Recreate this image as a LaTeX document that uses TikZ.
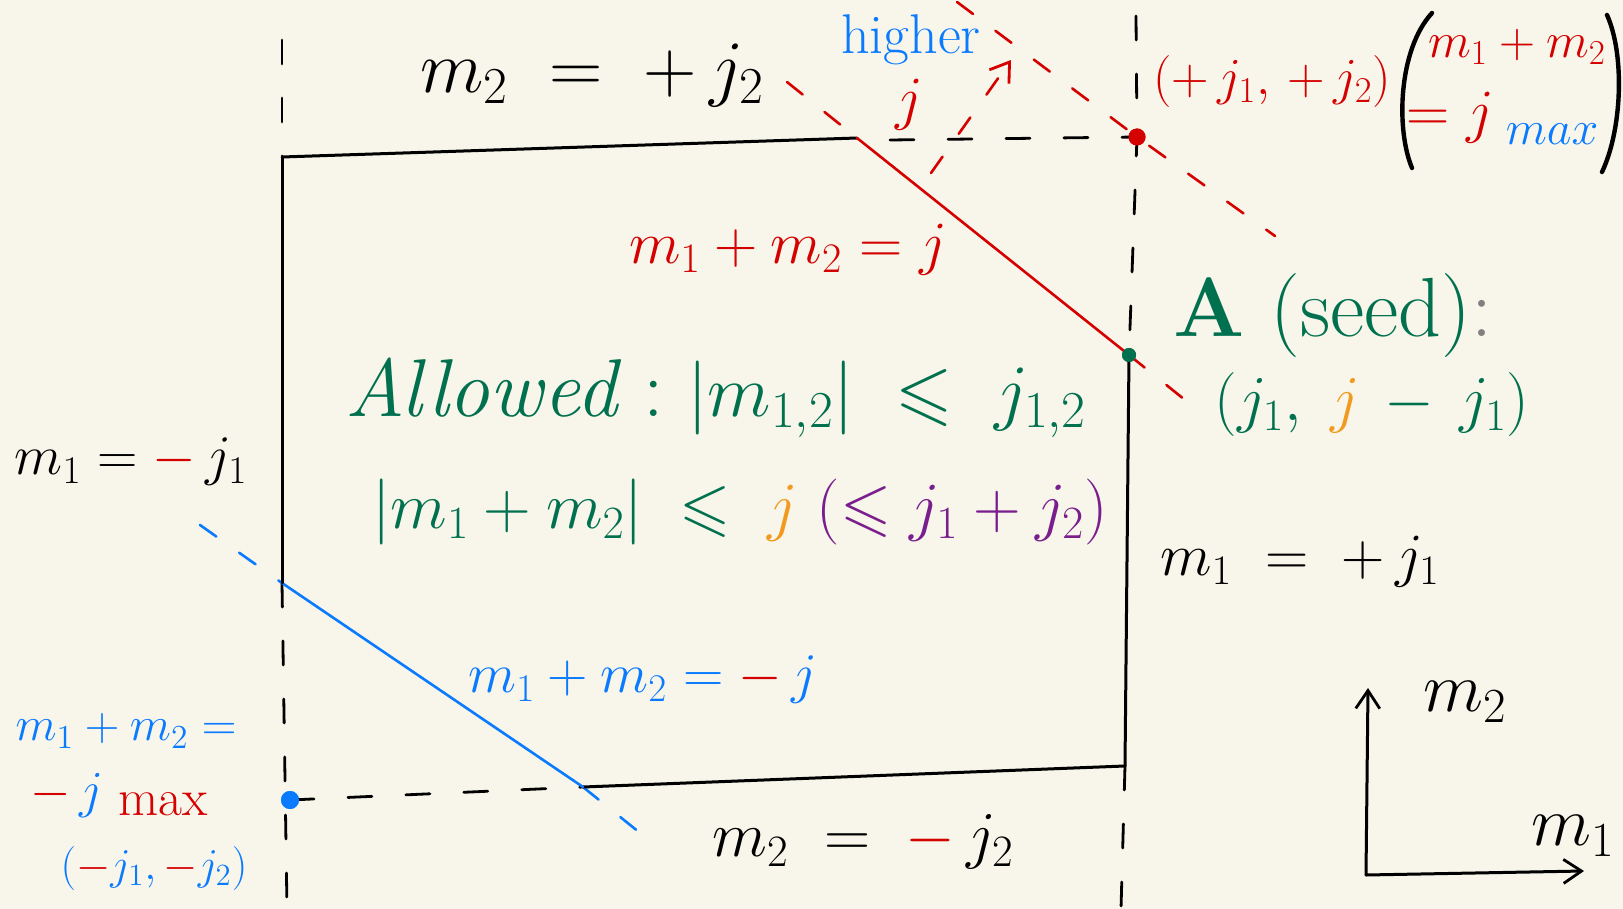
\RequirePackage{fix-cm}
\documentclass[tikz,border=0pt]{standalone}
\usepackage{amsmath,amssymb}
\usetikzlibrary{arrows.meta}
\definecolor{bg}{HTML}{F8F6EA}
\definecolor{hred}{HTML}{D50000}
\definecolor{hblue}{HTML}{0A7AFF}
\definecolor{hgreen}{HTML}{00704F}
\definecolor{horange}{HTML}{F29A1F}
\definecolor{hpurple}{HTML}{7A1E8E}
\newcommand\myfs[1]{\fontsize{#1}{#1}\selectfont}
\begin{document}
\begin{tikzpicture}[x=0.5pt,y=-0.5pt,line cap=round,
  frame/.style={black,line width=1.5pt},
  guide/.style={black,line width=1.4pt,dash pattern=on 12pt off 17pt},
  rsolid/.style={hred,line width=1.3pt},
  rguide/.style={hred,line width=1.3pt,dash pattern=on 10pt off 14pt},
  bsolid/.style={hblue,line width=1.3pt},
  bguide/.style={hblue,line width=1.3pt,dash pattern=on 10pt off 14pt},
  paren/.style={black,line width=2.2pt},
  dotn/.style={circle,inner sep=0pt,minimum size=#1},
  lab/.style={inner sep=0pt,anchor=center},
  barb/.style={-{Straight Barb[length=9pt,width=12pt,line width=1.4pt]}}]
\fill[bg] (0,0) rectangle (1623,909);
\useasboundingbox (0,0) rectangle (1623,909);

% corners
\coordinate (TL) at (282,157);
\coordinate (TR) at (857,138);
\coordinate (LB) at (282,583);
\coordinate (BL) at (583,787);
\coordinate (BR) at (1125,766);
\node[dotn=8.5pt,fill=hred] (rdot) at (1137,137) {};
\node[dotn=7pt,fill=hgreen] (gdot) at (1129,355) {};
\node[dotn=9pt,fill=hblue] (bdot) at (290,800) {};

% guide ends
\coordinate (Ltop) at (282,40);
\coordinate (Lbot) at (287,909);
\coordinate (Rtop) at (1136,16);
\coordinate (Rbot) at (1121,909);
\coordinate (TRd) at (890,140);
\coordinate (TRext) at (787,82);
\coordinate (Gext) at (1195,408);
\coordinate (J1) at (957,2);
\coordinate (J2) at (1275,236);
\coordinate (B1) at (200,525);
\coordinate (B2) at (655,845);
\coordinate (H1) at (931,173);
\coordinate (H2) at (1011,60);

% dashed guides
\draw[guide] (Ltop) -- (TL);
\draw[guide] (LB) -- (Lbot);
\draw[guide] (Rtop) -- (rdot.center) -- (gdot.center);
\draw[guide] (BR) -- (Rbot);
\draw[guide] (TRd) -- (rdot.center);
\draw[guide] (bdot.center) -- (BL);
\draw[rguide] (TRext) -- (TR);
\draw[rguide] (gdot.center) -- (Gext);
\draw[rguide] (J1) -- (rdot.center) -- (J2);
\draw[bguide] (B1) -- (LB);
\draw[bguide] (BL) -- (B2);
\draw[rguide,barb] (H1) -- (H2);

% solid boundary
\draw[frame] (TL) -- (TR);
\draw[rsolid] (TR) -- (gdot.center);
\draw[frame] (gdot.center) -- (BR);
\draw[frame] (BR) -- (BL);
\draw[bsolid] (BL) -- (LB);
\draw[frame] (LB) -- (TL);
\node[dotn=8.5pt,fill=hred] at (rdot) {};
\node[dotn=7pt,fill=hgreen] at (gdot) {};
\node[dotn=9pt,fill=hblue] at (bdot) {};

% axes
\coordinate (O) at (1366,875);
\coordinate (Ay) at (1368,688);
\coordinate (Ax) at (1584,871);
\draw[frame,barb] (O) -- (Ay);
\draw[frame,barb] (O) -- (Ax);
\node[lab] (lm2) at (1465,702) {\myfs{35}$m_2$};
\node[lab] (lm1) at (1573,836) {\myfs{35}$m_1$};

% labels
\node[lab] (top) at (592,75) {\myfs{37}$m_2\;=\;+\,j_2$};
\node[lab,text=hblue] (hig) at (911,40) {\myfs{28}higher};
\node[lab] (hj) at (909,105) {\myfs{30}$\color{hred}j$};
\node[lab] (pp) at (1272,82) {\myfs{26}\color{hred}$(+\,j_1,\,+\,j_2)$};

% m1+m2 = jmax in big parens
\draw[paren] (1432,13) .. controls (1398,50) and (1396,130) .. (1412,168);
\draw[paren] (1607,15) .. controls (1625,55) and (1622,130) .. (1602,172);
\node[lab] (jm1) at (1517,47) {\myfs{25}\color{hred}$m_1+m_2$};
\node[lab] (jm2) at (1450,118) {\myfs{30}\color{hred}$=j$};
\node[lab] (jm3) at (1552,134) {\myfs{24}\color{hblue}$max$};

\node[lab] (rl) at (788,250) {\myfs{30}\color{hred}$m_1+m_2=j$};
\node[lab,text=hgreen] (seed) at (1333,316) {\myfs{42}\textbf{A} (seed){\color{gray}:}};
\node[lab] (seedc) at (1372,405) {\myfs{32}\color{hgreen}$(j_1,\;{\color{horange}j}\,-\,j_1)$};
\node[lab] (al1) at (716,398) {\color{hgreen}\myfs{41}\textit{Allowed}\;:\;{\myfs{37}$|m_{1,2}|\;\leqslant\; j_{1,2}$}};
\node[lab] (al2) at (740,512) {\myfs{33}\color{hgreen}$|m_1+m_2|\;\leqslant\;{\color{horange}j}\;{\color{hpurple}(\leqslant j_1+j_2)}$};
\node[lab] (lft) at (131,462) {\myfs{28}$m_1={\color{hred}-}\,j_1$};
\node[lab] (rgt) at (1300,562) {\myfs{30}$m_1\;=\;+\,j_1$};
\node[lab] (bl) at (643,680) {\myfs{28}\color{hblue}$m_1+m_2={\color{hred}-}\,j$};
\node[lab] (bs1) at (126,731) {\myfs{24}\color{hblue}$m_1+m_2=$};
\node[lab] (bs2) at (119,796) {\myfs{26}{\color{hred}$-$}\,\color{hblue}$j$\;\raisebox{-4pt}{\color{hred}max}};
\node[lab] (bs3) at (154,868) {\myfs{22}\color{hblue}$({\color{hred}-}j_1,{\color{hred}-}j_2)$};
\node[lab] (bot) at (863,842) {\myfs{32}$m_2\;=\;{\color{hred}-}\,j_2$};
\end{tikzpicture}
\end{document}
